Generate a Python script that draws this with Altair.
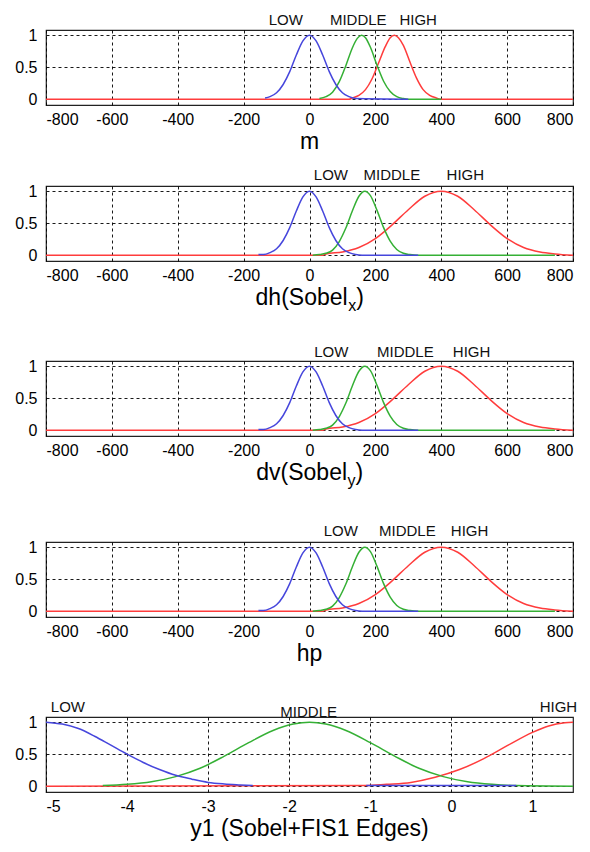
import altair as alt
import pandas as pd

# ---------------- data ----------------
# Panel 1 : m
m_low_x = [-135, -120, -100, -80, -60, -40, -20, 0, 20, 40, 60, 80, 100, 120, 140, 300]
m_low_y = [0.02, 0.04, 0.10, 0.23, 0.43, 0.69, 0.91, 1.0, 0.91, 0.69, 0.43, 0.23, 0.10, 0.04, 0.01, 0.0]
m_mid_x = [30, 50, 70, 90, 110, 130, 145, 158, 170, 185, 205, 225, 245, 265, 285, 300, 400]
m_mid_y = [0.01, 0.04, 0.11, 0.27, 0.52, 0.80, 0.95, 1.0, 0.96, 0.81, 0.53, 0.28, 0.12, 0.04, 0.01, 0.0, 0.0]
m_high_x = [-800, 120, 130, 150, 170, 190, 210, 230, 245, 258, 270, 285, 305, 325, 345, 365, 385, 400, 800]
m_high_y = [0.0, 0.0, 0.02, 0.06, 0.15, 0.32, 0.57, 0.82, 0.96, 1.0, 0.96, 0.84, 0.58, 0.33, 0.15, 0.06, 0.02, 0.0, 0.0]

# Panels 2-4 : dh, dv, hp (same membership functions)
s_low_x = [-155, -140, -120, -100, -80, -60, -40, -20, 0, 20, 40, 60, 80, 100, 120, 140, 160, 330]
s_low_y = [0.01, 0.01, 0.04, 0.10, 0.23, 0.43, 0.69, 0.91, 1.0, 0.91, 0.69, 0.43, 0.23, 0.10, 0.04, 0.01, 0.0, 0.0]
s_mid_x = [10, 30, 50, 70, 90, 110, 130, 150, 168, 185, 205, 225, 245, 265, 285, 305, 330, 745]
s_mid_y = [0.0, 0.01, 0.03, 0.08, 0.21, 0.42, 0.69, 0.92, 1.0, 0.93, 0.70, 0.43, 0.22, 0.09, 0.03, 0.01, 0.0, 0.0]
s_high_x = [-800, 40, 50, 100, 150, 200, 250, 300, 350, 400, 450, 500, 550, 600, 650, 700, 745, 800]
s_high_y = [0.0, 0.0, 0.02, 0.05, 0.12, 0.26, 0.47, 0.71, 0.92, 1.0, 0.92, 0.71, 0.47, 0.26, 0.12, 0.05, 0.02, 0.0]

# Panel 5 : y1
y_low_x = [-5, -4.8, -4.6, -4.4, -4.2, -4.0, -3.8, -3.6, -3.4, -3.2, -3.0, -2.8, -2.6, -2.45]
y_low_y = [1.0, 0.97, 0.90, 0.78, 0.64, 0.50, 0.37, 0.26, 0.17, 0.11, 0.06, 0.035, 0.02, 0.01]
y_low2_x = [-1.05, 0.8]
y_low2_y = [0.01, 0.01]
y_mid_x = [-4.3, -4.0, -3.7, -3.4, -3.1, -2.8, -2.5, -2.2, -1.95, -1.75, -1.55, -1.3, -1.0, -0.7, -0.4, -0.1, 0.2, 0.5, 0.8, 1.5]
y_mid_y = [0.01, 0.03, 0.07, 0.15, 0.28, 0.47, 0.68, 0.87, 0.97, 1.0, 0.97, 0.87, 0.68, 0.47, 0.28, 0.15, 0.07, 0.03, 0.01, 0.0]
y_high_x = [-5, -1.05, -0.8, -0.5, -0.2, 0.1, 0.4, 0.7, 1.0, 1.2, 1.4, 1.5]
y_high_y = [0.0, 0.01, 0.03, 0.06, 0.14, 0.26, 0.43, 0.64, 0.84, 0.94, 0.99, 1.0]

# membership-function names and where their names are written (data units)
mf_names = ["LOW", "MIDDLE", "HIGH"]
m_label_x = [-72, 148, 330]
m_label_y = [1.24, 1.24, 1.24]
dh_label_x = [65, 250, 473]
dh_label_y = [1.25, 1.25, 1.25]
dv_label_x = [66, 291, 492]
dv_label_y = [1.22, 1.22, 1.22]
hp_label_x = [95, 297, 486]
hp_label_y = [1.25, 1.25, 1.25]
y1_label_x = [-4.73, -1.76, 1.32]
y1_label_y = [1.24, 1.16, 1.24]

big_ticks = [-800, -600, -400, -200, 0, 200, 400, 600, 800]
small_ticks = [-5, -4, -3, -2, -1, 0, 1]
y_ticks = [0, 0.5, 1]

# ---------------- styling ----------------
W, H = 527, 75
COLORS = {"LOW": "#4646dc", "MIDDLE": "#35b035", "HIGH": "#ff3c3c"}
FONT = "Liberation Sans"
color_scale = alt.Scale(domain=list(COLORS.keys()), range=list(COLORS.values()))


def curve_df(name, xs, ys, seg=0):
    return pd.DataFrame({"x": xs, "y": ys, "mf": name, "seg": seg})


def panel(curves, lab_x, lab_y, xdom, xticks, title_parts):
    x_axis = alt.Axis(values=xticks, title=None, grid=True, gridDash=[3, 3],
                      gridColor="black", gridOpacity=0.9, ticks=False, domain=False,
                      labelPadding=6, labelFontSize=16, labelFont=FONT, labelColor="black",
                      labelOverlap=False,
                      labelExpr="datum.value < 0 ? '-' + abs(datum.value) : '' + datum.value")
    y_axis = alt.Axis(values=y_ticks, title=None, grid=True, gridDash=[3, 3],
                      gridColor="black", gridOpacity=0.9, ticks=False, domain=False,
                      labelPadding=9, labelFontSize=16, labelFont=FONT, labelColor="black",
                      labelOverlap=False, format="~g", minExtent=30, maxExtent=30)
    xs = alt.X("x:Q", scale=alt.Scale(domain=xdom, nice=False, zero=False), axis=x_axis)
    ys = alt.Y("y:Q", scale=alt.Scale(domain=[-0.09, 1.08], nice=False, zero=False), axis=y_axis)
    layers = []
    for name in ["HIGH", "MIDDLE", "LOW"]:
        df = pd.concat([c for c in curves if c["mf"].iloc[0] == name], ignore_index=True)
        layers.append(
            alt.Chart(df).mark_line(strokeWidth=1.5, interpolate="monotone").encode(
                x=xs, y=ys, detail="seg:N",
                color=alt.Color("mf:N", scale=color_scale, legend=None))
        )
    lab_df = pd.DataFrame({"x": lab_x, "y": lab_y, "label": mf_names})
    layers.append(
        alt.Chart(lab_df).mark_text(fontSize=15, font=FONT, color="#111", baseline="middle").encode(
            x=xs, y=ys, text="label:N")
    )
    # axis title (with optional subscript)
    main, sub = title_parts
    if sub is None:
        t = alt.Chart(pd.DataFrame({"t": [main]})).mark_text(
            fontSize=23, font=FONT, color="black", baseline="middle", align="center").encode(
            text="t:N", x=alt.value(W / 2), y=alt.value(H + 37))
        layers.append(t)
    else:
        main_w = {"dh(Sobel": 92.0, "dv(Sobel": 90.8}[main]
        start = W / 2 - (main_w + 8 + 7.7) / 2
        xend = start + main_w
        layers.append(alt.Chart(pd.DataFrame({"t": [main]})).mark_text(
            fontSize=23, font=FONT, color="black", baseline="middle", align="right").encode(
            text="t:N", x=alt.value(xend), y=alt.value(H + 37)))
        layers.append(alt.Chart(pd.DataFrame({"t": [sub]})).mark_text(
            fontSize=16, font=FONT, color="black", baseline="middle", align="left").encode(
            text="t:N", x=alt.value(xend + 0.5), y=alt.value(H + 45)))
        layers.append(alt.Chart(pd.DataFrame({"t": [")"]})).mark_text(
            fontSize=23, font=FONT, color="black", baseline="middle", align="left").encode(
            text="t:N", x=alt.value(xend + 8.5), y=alt.value(H + 37)))
    return alt.layer(*layers).properties(width=W, height=H)


p1 = panel([curve_df("LOW", m_low_x, m_low_y), curve_df("MIDDLE", m_mid_x, m_mid_y),
            curve_df("HIGH", m_high_x, m_high_y)],
           m_label_x, m_label_y, [-800, 800], big_ticks, ("m", None))
p2 = panel([curve_df("LOW", s_low_x, s_low_y), curve_df("MIDDLE", s_mid_x, s_mid_y),
            curve_df("HIGH", s_high_x, s_high_y)],
           dh_label_x, dh_label_y, [-800, 800], big_ticks, ("dh(Sobel", "x"))
p3 = panel([curve_df("LOW", s_low_x, s_low_y), curve_df("MIDDLE", s_mid_x, s_mid_y),
            curve_df("HIGH", s_high_x, s_high_y)],
           dv_label_x, dv_label_y, [-800, 800], big_ticks, ("dv(Sobel", "y"))
p4 = panel([curve_df("LOW", s_low_x, s_low_y), curve_df("MIDDLE", s_mid_x, s_mid_y),
            curve_df("HIGH", s_high_x, s_high_y)],
           hp_label_x, hp_label_y, [-800, 800], big_ticks, ("hp", None))
p5 = panel([curve_df("LOW", y_low_x, y_low_y, 0), curve_df("LOW", y_low2_x, y_low2_y, 1),
            curve_df("MIDDLE", y_mid_x, y_mid_y), curve_df("HIGH", y_high_x, y_high_y)],
           y1_label_x, y1_label_y, [-5, 1.5], small_ticks, ("y1 (Sobel+FIS1 Edges)", None))

inner3 = alt.vconcat(p4, p5, spacing=100, bounds="flush")
inner2 = alt.vconcat(p3, inner3, spacing=106, bounds="flush")
inner1 = alt.vconcat(p2, inner2, spacing=100, bounds="flush")
chart = alt.vconcat(p1, inner1, spacing=81, bounds="flush").properties(
    padding={"left": 6, "top": 4, "right": 0, "bottom": 4},
    background="white",
).configure_view(stroke="#222", strokeWidth=1.2)

chart.save("out.html", embed_options={"renderer": "svg", "actions": False})
